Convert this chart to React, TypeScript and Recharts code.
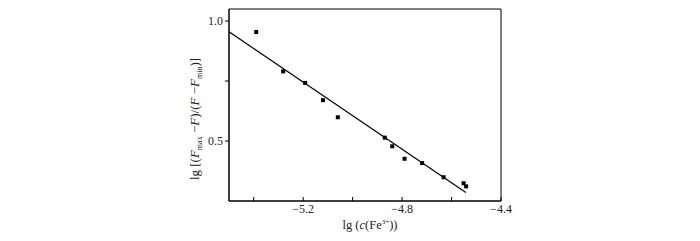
import { ReferenceArea, Scatter, ScatterChart, XAxis, YAxis } from "recharts";

const pointX = [-5.39, -5.281, -5.192, -5.12, -5.06, -4.87, -4.84, -4.79, -4.719, -4.632, -4.551, -4.541];
const pointY = [0.954, 0.79, 0.742, 0.67, 0.599, 0.514, 0.478, 0.426, 0.408, 0.349, 0.324, 0.311];
const fitX = [-5.5, -4.542];
const fitY = [0.955, 0.285];
const xTicks = [-5.4, -5.2, -5.0, -4.8, -4.6, -4.4];
const xLabeled = [-5.2, -4.8, -4.4];
const yTicks = [0.5, 0.75, 1.0];
const yLabeled = [0.5, 1.0];

const points = pointX.map((x, i) => ({ x, y: pointY[i] }));
const fit = fitX.map((x, i) => ({ x, y: fitY[i] }));

const font = "'Liberation Serif', 'Times New Roman', serif";

const fmt = (v: number) => (v < 0 ? "\u2212" + Math.abs(v).toFixed(1) : v.toFixed(1));

function XTick(props: any) {
  const { x, y, payload } = props;
  const labeled = xLabeled.some((t) => Math.abs(t - payload.value) < 1e-6);
  return (
    <g>
      <line x1={x} x2={x} y1={y} y2={y - 4} stroke="#000" />
      {labeled && (
        <text x={x} y={y + 12} textAnchor="middle" fontSize={12} fontFamily={font} fill="#222">
          {fmt(payload.value)}
        </text>
      )}
    </g>
  );
}

function Square(props: any) {
  const { cx, cy } = props;
  return <rect x={cx - 2} y={cy - 2} width={4} height={4} fill="#000" />;
}

function YTitle() {
  return (
    <text
      transform="translate(199,119) rotate(-90)"
      textAnchor="middle"
      fontSize={13}
      fontFamily={font}
      fill="#222"
    >
      lg [(<tspan fontStyle="italic">F</tspan>
      <tspan dy={3} fontSize={8}>max</tspan>
      <tspan dy={-3}> {"\u2212"}</tspan>
      <tspan fontStyle="italic">F</tspan>)/(<tspan fontStyle="italic">F</tspan> {"\u2212"}
      <tspan fontStyle="italic">F</tspan>
      <tspan dy={3} fontSize={8}>min</tspan>
      <tspan dy={-3}>)]</tspan>
    </text>
  );
}

function XTitle() {
  return (
    <text x={370} y={229} textAnchor="middle" fontSize={12.5} fontFamily={font} fill="#222">
      lg (<tspan fontStyle="italic">c</tspan>(Fe
      <tspan dy={-5} fontSize={7}>3+</tspan>
      <tspan dy={5}>))</tspan>
    </text>
  );
}

export default function App() {
  return (
    <div style={{ position: "absolute", left: 0, top: 0, background: "#fff" }}>
      <ScatterChart width={700} height={241} margin={{ top: 9, right: 199, bottom: 0, left: 189 }}>
        <XAxis
          dataKey="x"
          type="number"
          domain={[-5.5, -4.4]}
          ticks={xTicks}
          allowDataOverflow
          height={40}
          stroke="#000"
          tickLine={false}
          tickSize={0}
          tickMargin={0}
          tick={<XTick />}
          label={{ content: () => <XTitle /> }}
        />
        <YAxis
          dataKey="y"
          type="number"
          domain={[0.25, 1.05]}
          ticks={yTicks}
          allowDataOverflow
          width={40}
          stroke="#000"
          tickSize={4}
          tickMargin={2}
          tickFormatter={(v: number) => (yLabeled.some((t) => Math.abs(t - v) < 1e-6) ? fmt(v) : "")}
          tick={{ fontSize: 12, fontFamily: font, fill: "#222" }}
          label={{ content: () => <YTitle /> }}
        />
        <ReferenceArea x1={-5.5} x2={-4.4} y1={0.25} y2={1.05} fill="none" stroke="#000" strokeWidth={1} />
        <Scatter data={fit} line={{ stroke: "#000", strokeWidth: 1.2 }} shape={() => null} isAnimationActive={false} />
        <Scatter data={points} shape={<Square />} isAnimationActive={false} />
      </ScatterChart>
    </div>
  );
}
